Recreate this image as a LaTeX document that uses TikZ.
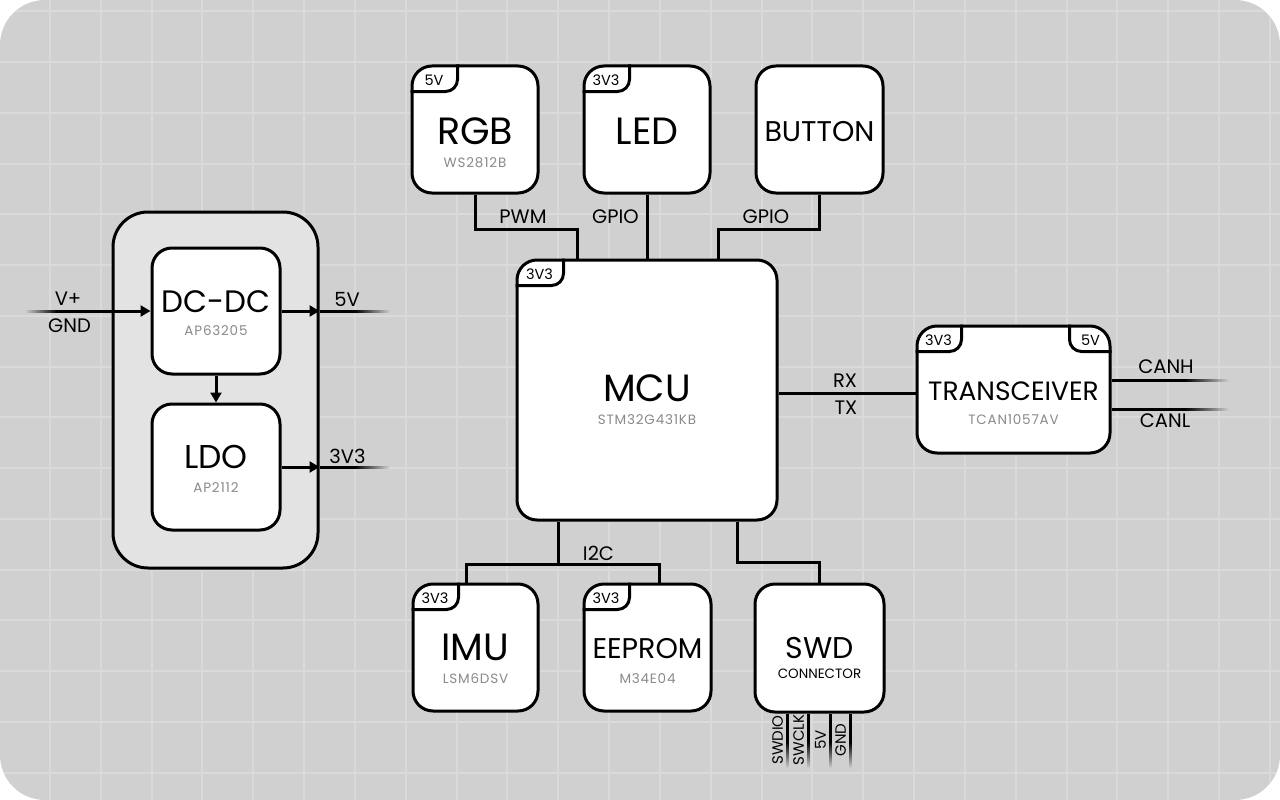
\documentclass[tikz,border=0pt]{standalone}
\usepackage{fontspec}
\setmainfont{Poppins}
\usetikzlibrary{arrows.meta,fadings,calc}
\definecolor{bg}{HTML}{D0D0D0}
\definecolor{gridc}{HTML}{DADADA}
\definecolor{grp}{HTML}{E3E3E3}
\definecolor{subc}{HTML}{8A8A8A}
\tikzfading[name=fadeR, left color=transparent!0, right color=transparent!100]
\tikzfading[name=fadeL, left color=transparent!100, right color=transparent!0]
\tikzfading[name=fadeD, top color=transparent!0, bottom color=transparent!100]
\newcommand\fs[1]{\fontsize{#1}{#1}\selectfont}
\newcommand\tagTL[4]{% box, width, name, text
  \draw[tagline] ($(#1.north west)+(0,27)$) -| ($(#1.north west)+(#2,0)$);
  \node[txt, font=\fs{14.5}] (#3) at ($(#1.north west)+(#2/2,20.5)$) {#4};}
\newcommand\tagTR[4]{%
  \draw[tagline] ($(#1.north east)+(0,27)$) -| ($(#1.north east)+(-#2,0)$);
  \node[txt, font=\fs{14.5}] (#3) at ($(#1.north east)+(-#2/2,20.5)$) {#4};}
\begin{document}
\begin{tikzpicture}[x=1pt,y=-1pt,
  blk/.style={draw=black, line width=3pt, fill=white, rounded corners=20pt, inner sep=0pt},
  wire/.style={line width=3pt, draw=black},
  tagline/.style={line width=3pt, draw=black, rounded corners=12pt},
  txt/.style={inner sep=0pt, anchor=base, text=black},
  subt/.style={inner sep=0pt, anchor=base, text=subc, font=\fs{13.5}\addfontfeature{LetterSpace=6}},
  lbl/.style={inner sep=0pt, anchor=center, text=black, font=\fs{19.5}},
  arr/.style={-{Triangle[length=10pt,width=11pt]}},
  fadebar/.style={fill=black}
]
\useasboundingbox (0,0) rectangle (1280,800);
\fill[white] (0,0) rectangle (1280,800);
\fill[bg, rounded corners=45pt] (0,0) rectangle (1280,800);
\begin{scope}
  \clip[rounded corners=45pt] (0,0) rectangle (1280,800);
  \foreach \i in {0,...,24} \draw[gridc, line width=2pt] ({50+50.83*\i},0) -- ({50+50.83*\i},800);
  \foreach \j in {0,...,15} \draw[gridc, line width=2pt] (0,{11.3+50.75*\j}) -- (1280,{11.3+50.75*\j});
\end{scope}

% power group
\node[draw=black, line width=3pt, fill=grp, rounded corners=35pt, minimum width=205pt, minimum height=356pt] (pwr) at (215.5,390) {};
\node[blk, minimum width=128pt, minimum height=126pt] (dcdc) at (216,311) {};
\node[blk, minimum width=128pt, minimum height=126pt] (ldo) at (216,467) {};
\node[txt, font=\fs{31}] (dcdct) at (216,312) {DC-DC};
\node[subt] (dcdcs) at (216,335) {AP63205};
\node[txt, font=\fs{33}] (ldot) at (216,468) {LDO};
\node[subt] (ldos) at (216,492) {AP2112};

% top row
\node[blk, minimum width=126pt, minimum height=127pt] (rgb) at (475,129.5) {};
\node[blk, minimum width=126pt, minimum height=127pt] (led) at (647,129.5) {};
\node[blk, minimum width=127pt, minimum height=127pt] (btn) at (819.5,129.5) {};
\node[txt, font=\fs{38}] (rgbt) at (475,144) {RGB};
\node[subt] (rgbs) at (475,167) {WS2812B};
\node[txt, font=\fs{38}] (ledt) at (647,144) {LED};
\node[txt, font=\fs{28.5}] (btnt) at (819.5,141) {BUTTON};

% MCU
\node[blk, minimum width=260pt, minimum height=260pt] (mcu) at (647,390) {};
\node[txt, font=\fs{38}] (mcut) at (647,401) {MCU};
\node[subt] (mcus) at (647,424) {STM32G431KB};

% transceiver
\node[blk, minimum width=193pt, minimum height=127pt] (trx) at (1013.5,389.5) {};
\node[txt, font=\fs{26.5}] (trxt) at (1013.5,400) {TRANSCEIVER};
\node[subt] (trxs) at (1013.5,424) {TCAN1057AV};

% bottom row
\node[blk, minimum width=125pt, minimum height=127pt] (imu) at (475.5,647.5) {};
\node[blk, minimum width=127pt, minimum height=127pt] (eep) at (647.5,647.5) {};
\node[blk, minimum width=129pt, minimum height=128pt] (swd) at (819.5,648) {};
\node[txt, font=\fs{38}] (imut) at (475.5,660) {IMU};
\node[subt] (imus) at (475.5,683) {LSM6DSV};
\node[txt, font=\fs{28.5}] (eept) at (647.5,658) {EEPROM};
\node[subt] (eeps) at (647.5,683) {M34E04};
\node[txt, font=\fs{30}] (swdt) at (819.5,658) {SWD};
\node[txt, font=\fs{13.5}] (swds) at (819.5,678) {CONNECTOR};

% tags
\tagTL{rgb}{47}{rgbtag}{5V}
\tagTL{led}{47}{ledtag}{3V3}
\tagTL{mcu}{48}{mcutag}{3V3}
\tagTL{trx}{46}{trxtagl}{3V3}
\tagTR{trx}{42}{trxtagr}{5V}
\tagTL{imu}{47}{imutag}{3V3}
\tagTL{eep}{47}{eeptag}{3V3}

% power connectors
\coordinate (vin) at (56,311);
\fill[fadebar, path fading=fadeL] (25,309.5) rectangle (57,312.5);
\draw[wire, arr] (vin) -- (dcdc.west);
\draw[wire, arr] (dcdc.east) -- (dcdc.east -| pwr.east);
\coordinate (v5end) at (356,311);
\draw[wire] (dcdc.east -| pwr.east) -- (v5end);
\fill[fadebar, path fading=fadeR] (355,309.5) rectangle (390,312.5);
\draw[wire, arr] (ldo.east) -- (ldo.east -| pwr.east);
\coordinate (v33end) at (356,467);
\draw[wire] (ldo.east -| pwr.east) -- (v33end);
\fill[fadebar, path fading=fadeR] (355,465.5) rectangle (390,468.5);
\draw[wire, arr] (dcdc.south) -- (ldo.north);
\node[lbl] (vpl) at (68,299) {V+};
\node[lbl] (gndl) at (69.5,325.5) {GND};
\node[lbl] (v5l) at (347,299.5) {5V};
\node[lbl] (v33l) at (347.5,456) {3V3};

% top connectors
\draw[wire] (rgb.south) -- ++(0,35) -| ([xshift=-70pt]mcu.north);
\draw[wire] (led.south) -- (led.south |- mcu.north);
\draw[wire] (btn.south) -- ++(0,35) -| ([xshift=71pt]mcu.north);
\node[lbl] (pwml) at (523,217) {PWM};
\node[lbl] (gpio1) at (615.5,217) {GPIO};
\node[lbl] (gpio2) at (766,217) {GPIO};

% MCU - transceiver
\draw[wire] ([yshift=-3pt]mcu.east) -- ([yshift=-3pt]mcu.east -| trx.west);
\node[lbl] (rxl) at (845,381) {RX};
\node[lbl] (txl) at (846,408) {TX};
\coordinate (canhend) at (1186,380);
\coordinate (canlend) at (1186,409);
\draw[wire] (trx.east |- canhend) -- (canhend);
\draw[wire] (trx.east |- canlend) -- (canlend);
\fill[fadebar, path fading=fadeR] (1185,378.5) rectangle (1229,381.5);
\fill[fadebar, path fading=fadeR] (1185,407.5) rectangle (1229,410.5);
\node[lbl] (canhl) at (1166,367) {CANH};
\node[lbl] (canll) at (1165,420.5) {CANL};

% bottom connectors
\coordinate (i2c) at ($(mcu.south)+(-89,43)$);
\draw[wire] ([xshift=-89pt]mcu.south) -- (i2c);
\draw[wire] ([xshift=-9.5pt]imu.north) |- (i2c) -| ([xshift=11.5pt]eep.north);
\draw[wire] ([xshift=90pt]mcu.south) |- ($(swd.north)+(0,-20)$) -- (swd.north);
\node[lbl] (i2cl) at (598.5,553) {I2C};

% SWD pins
\foreach \x/\t/\n in {787/SWDIO/pa,808/SWCLK/pb,830/5V/pc,850/GND/pd}{
  \coordinate (\n end) at (\x,743);
  \draw[wire] (swd.south -| \n end) -- (\n end);
  \fill[fadebar, path fading=fadeD] (\x-1.5,742) rectangle (\x+1.5,768);
  \node[inner sep=0pt, rotate=90, font=\fs{15}, anchor=center] (\n l) at (\x-9.5,740) {\t};
}
\end{tikzpicture}
\end{document}
